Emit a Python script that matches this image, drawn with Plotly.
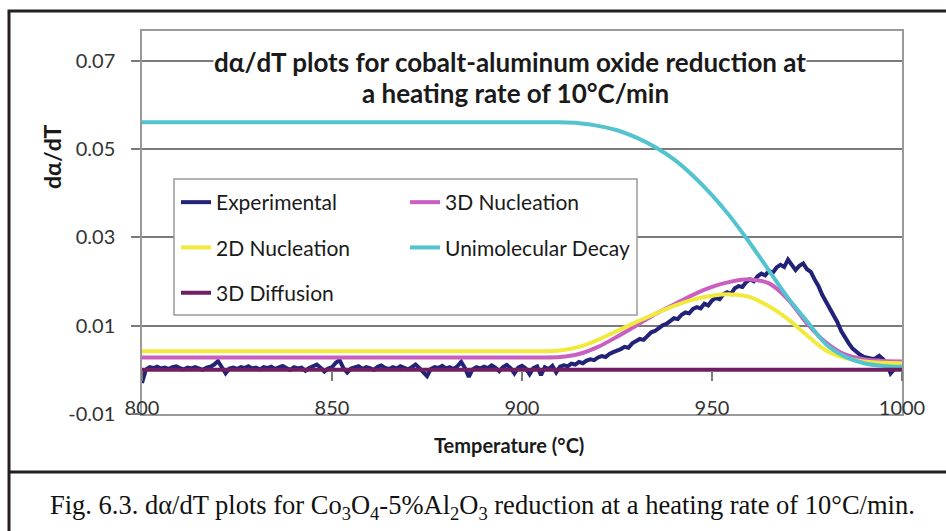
import plotly.graph_objects as go

# ---- data -------------------------------------------------------------
temperature_exp = list(range(800, 1001))          # degC, 1 degree steps
experimental = [
    -0.0030, 0.0000, 0.0006, 0.0004, 0.0007, 0.0003, 0.0005, 0.0002, 0.0006, 0.0008,
    0.0004, 0.0001, 0.0005, 0.0003, 0.0006, 0.0004, 0.0000, 0.0005, 0.0007, 0.0012,
    0.0020, 0.0006, -0.0008, 0.0003, 0.0005, 0.0002, 0.0006, 0.0004, 0.0008, 0.0003,
    0.0005, 0.0001, 0.0006, 0.0004, 0.0007, 0.0002, 0.0005, 0.0009, 0.0004, 0.0000,
    0.0006, 0.0003, 0.0005, -0.0002, 0.0004, 0.0007, 0.0012, 0.0005, -0.0004, 0.0003,
    0.0006, 0.0016, 0.0022, 0.0004, -0.0006, 0.0003, 0.0005, 0.0008, 0.0002, 0.0006,
    0.0004, 0.0000, 0.0007, 0.0010, 0.0004, 0.0002, 0.0006, 0.0003, 0.0008, 0.0005,
    0.0001, 0.0006, 0.0012, 0.0004, -0.0006, -0.0014, 0.0002, 0.0006, 0.0004, 0.0009,
    0.0003, 0.0006, 0.0002, 0.0008, 0.0018, 0.0004, -0.0016, 0.0001, 0.0006, 0.0003,
    0.0007, 0.0004, 0.0010, 0.0005, -0.0003, 0.0006, 0.0011, 0.0004, -0.0008, 0.0005,
    0.0009, 0.0003, -0.0010, 0.0004, 0.0008, -0.0012, 0.0006, 0.0002, 0.0009, -0.0006,
    0.0007, 0.0010, 0.0008, 0.0014, 0.0012, 0.0018, 0.0015, 0.0021, 0.0024, 0.0022,
    0.0028, 0.0031, 0.0029, 0.0036, 0.0040, 0.0043, 0.0047, 0.0052, 0.0050, 0.0060,
    0.0065, 0.0070, 0.0068, 0.0078, 0.0085, 0.0088, 0.0094, 0.0101, 0.0104, 0.0112,
    0.0117, 0.0115, 0.0125, 0.0130, 0.0128, 0.0138, 0.0142, 0.0139, 0.0150, 0.0146,
    0.0157, 0.0163, 0.0160, 0.0171, 0.0176, 0.0172, 0.0185, 0.0190, 0.0188, 0.0199,
    0.0205, 0.0201, 0.0212, 0.0218, 0.0214, 0.0224, 0.0220, 0.0232, 0.0238, 0.0233,
    0.0250, 0.0238, 0.0226, 0.0236, 0.0241, 0.0228, 0.0222, 0.0205, 0.0190, 0.0170,
    0.0155, 0.0138, 0.0126, 0.0108, 0.0088, 0.0072, 0.0060, 0.0048, 0.0040, 0.0034,
    0.0029, 0.0027, 0.0025, 0.0026, 0.0032, 0.0024, 0.0014, -0.0008, 0.0002, 0.0004,
    0.0003,
]

temperature_model = list(range(800, 1001, 5))     # degC, 5 degree steps
nucleation_3d = [
    0.0028, 0.0028, 0.0028, 0.0028, 0.0028, 0.0028, 0.0028, 0.0028, 0.0028, 0.0028,
    0.0028, 0.0028, 0.0028, 0.0028, 0.0028, 0.0028, 0.0028, 0.0028, 0.0028, 0.0028,
    0.0028, 0.0028,
    0.0029, 0.0036, 0.0052, 0.0075, 0.0100, 0.0126, 0.0148, 0.0170, 0.0188, 0.0200,
    0.0205, 0.0196, 0.0160, 0.0105, 0.0062, 0.0035, 0.0024, 0.0020, 0.0019,
]
nucleation_2d = [
    0.0042, 0.0042, 0.0042, 0.0042, 0.0042, 0.0042, 0.0042, 0.0042, 0.0042, 0.0042,
    0.0042, 0.0042, 0.0042, 0.0042, 0.0042, 0.0042, 0.0042, 0.0042, 0.0042, 0.0042,
    0.0042, 0.0042,
    0.0044, 0.0052, 0.0068, 0.0088, 0.0108, 0.0127, 0.0145, 0.0159, 0.0168, 0.0171,
    0.0165, 0.0144, 0.0115, 0.0078, 0.0044, 0.0027, 0.0019, 0.0016, 0.0015,
]
unimolecular_decay = [
    0.0561, 0.0561, 0.0561, 0.0561, 0.0561, 0.0561, 0.0561, 0.0561, 0.0561, 0.0561,
    0.0561, 0.0561, 0.0561, 0.0561, 0.0561, 0.0561, 0.0561, 0.0561, 0.0561, 0.0561,
    0.0561, 0.0561, 0.0561,
    0.0559, 0.0553, 0.0543, 0.0527, 0.0505, 0.0477, 0.0440, 0.0396, 0.0345, 0.0287,
    0.0225, 0.0163, 0.0110, 0.0058, 0.0030, 0.0015, 0.0009, 0.0007,
]
diffusion_3d = [
    0.0, 0.0, 0.0, 0.0, 0.0, 0.0, 0.0, 0.0, 0.0, 0.0,
    0.0, 0.0, 0.0, 0.0, 0.0, 0.0, 0.0, 0.0, 0.0, 0.0,
    0.0, 0.0, 0.0, 0.0, 0.0, 0.0, 0.0, 0.0, 0.0, 0.0,
    0.0, 0.0, 0.0, 0.0, 0.0, 0.0, 0.0, 0.0, 0.0, 0.0,
    0.0,
]

x_range = [800, 1000]
y_range = [-0.01001, 0.0768]
x_ticks = [800, 850, 900, 950, 1000]
y_ticks = [-0.01, 0.01, 0.03, 0.05, 0.07]
y_tick_labels = ["-0.01", "0.01", "0.03", "0.05", "0.07"]

# ---- styling ----------------------------------------------------------
SANS = "Lato"
GRID = "#7a7a7a"
FRAME = "#9a9a9a"
INK = "#1a1a1a"
LW = 4

fig = go.Figure()

fig.add_trace(go.Scatter(
    x=temperature_exp, y=experimental, name="Experimental", mode="lines",
    line=dict(color="#222277", width=LW), legend="legend", legendgroup="a"))
fig.add_trace(go.Scatter(
    x=temperature_model, y=nucleation_3d, name="3D Nucleation", mode="lines",
    line=dict(color="#c95fc0", width=LW, shape="spline", smoothing=0.8),
    legend="legend2", legendgroup="b"))
fig.add_trace(go.Scatter(
    x=temperature_model, y=nucleation_2d, name="2D Nucleation", mode="lines",
    line=dict(color="#f1ea3c", width=LW, shape="spline", smoothing=0.8),
    legend="legend", legendgroup="c"))
fig.add_trace(go.Scatter(
    x=temperature_model, y=unimolecular_decay, name="Unimolecular Decay", mode="lines",
    line=dict(color="#52c3cf", width=LW, shape="spline", smoothing=0.8),
    legend="legend2", legendgroup="d"))
# the zero line carries the secondary x axis whose ticks cross at y = 0
fig.add_trace(go.Scatter(
    x=temperature_model, y=diffusion_3d, name="3D Diffusion", mode="lines",
    line=dict(color="#6e1f62", width=LW), xaxis="x2",
    legend="legend", legendgroup="e"))

zero_pos = (0 - y_range[0]) / (y_range[1] - y_range[0])

fig.update_layout(
    width=946, height=531,
    margin=dict(l=142, r=44, t=31, b=117),
    paper_bgcolor="white", plot_bgcolor="white",
    showlegend=True,
    xaxis=dict(
        range=x_range, tickvals=x_ticks, ticks="",
        ticklabelstandoff=-25,
        tickfont=dict(family=SANS, size=20, color="#333333"),
        showgrid=False, zeroline=False,
        showline=True, mirror=True, linecolor=FRAME, linewidth=1.5,
    ),
    xaxis2=dict(
        range=x_range, matches="x", overlaying="x", anchor="free",
        position=zero_pos, side="bottom",
        tickvals=x_ticks, ticks="outside", ticklen=10, tickwidth=1.5,
        tickcolor=GRID, showticklabels=False,
        showgrid=False, zeroline=False, showline=False,
    ),
    yaxis=dict(
        range=y_range, tickvals=y_ticks, ticktext=y_tick_labels,
        ticks="outside", ticklen=9, tickwidth=1.5, tickcolor=GRID,
        ticklabelstandoff=12,
        tickfont=dict(family=SANS, size=20, color="#333333"),
        showgrid=True, gridcolor=GRID, gridwidth=1.5, zeroline=False,
        showline=True, mirror=True, linecolor=FRAME, linewidth=1.5,
    ),
    legend=dict(
        x=(176 - 142) / 760, y=(414 - 182) / 383, xanchor="left", yanchor="top",
        bgcolor="rgba(0,0,0,0)", borderwidth=0, tracegroupgap=15,
        font=dict(family=SANS, size=21, color=INK),
    ),
    legend2=dict(
        x=(405 - 142) / 760, y=(414 - 182) / 383, xanchor="left", yanchor="top",
        bgcolor="rgba(0,0,0,0)", borderwidth=0, tracegroupgap=15,
        font=dict(family=SANS, size=21, color=INK),
    ),
)

# legend frame
fig.add_shape(type="rect", xref="paper", yref="paper",
              x0=(174 - 142) / 760, x1=(637 - 142) / 760,
              y0=(414 - 315) / 383, y1=(414 - 179) / 383,
              fillcolor="white", line=dict(color=FRAME, width=1.5), layer="above")

# outer figure frame and caption divider
fig.add_shape(type="rect", xref="paper", yref="paper",
              x0=(9 - 142) / 760, x1=1.08, y0=-0.4, y1=(414 - 11) / 383,
              line=dict(color="#231f20", width=3), fillcolor="rgba(0,0,0,0)")
fig.add_shape(type="line", xref="paper", yref="paper",
              x0=(9 - 142) / 760, x1=1.08,
              y0=(414 - 472) / 383, y1=(414 - 472) / 383,
              line=dict(color="#231f20", width=3))

# chart title; the first line is boxed so the gridline stops at the text
fig.add_annotation(
    xref="paper", yref="paper", x=(510 - 142) / 760, y=(414 - 62) / 383,
    xanchor="center", yanchor="middle", showarrow=False,
    text="<b>d\u03b1/dT plots for cobalt-aluminum oxide reduction at</b>",
    font=dict(family=SANS, size=26, color=INK), bgcolor="white", borderpad=0)
fig.add_annotation(
    xref="paper", yref="paper", x=(515 - 142) / 760, y=(414 - 93) / 383,
    xanchor="center", yanchor="middle", showarrow=False,
    text="<b>a heating rate of 10\u00b0C/min</b>",
    font=dict(family=SANS, size=26, color=INK))

# axis titles
fig.add_annotation(
    xref="paper", yref="paper", x=(52 - 142) / 760, y=(414 - 157) / 383,
    xanchor="center", yanchor="middle", showarrow=False, textangle=-90,
    text="<b>d\u03b1/dT</b>", font=dict(family=SANS, size=23, color=INK))
fig.add_annotation(
    xref="paper", yref="paper", x=(509 - 142) / 760, y=(414 - 445) / 383,
    xanchor="center", yanchor="middle", showarrow=False,
    text="<b>Temperature (\u00b0C)</b>", font=dict(family=SANS, size=20, color=INK))

# figure caption
fig.add_annotation(
    xref="paper", yref="paper", x=(482 - 142) / 760, y=(414 - 507) / 383,
    xanchor="center", yanchor="middle", showarrow=False,
    text="Fig. 6.3. d\u03b1/dT plots for Co<sub>3</sub>O<sub>4</sub>-5%Al<sub>2</sub>O<sub>3</sub>"
         " reduction at a heating rate of 10\u00b0C/min.",
    font=dict(family="Liberation Serif", size=26.5, color="#111111"))

fig.write_html("out.html")
